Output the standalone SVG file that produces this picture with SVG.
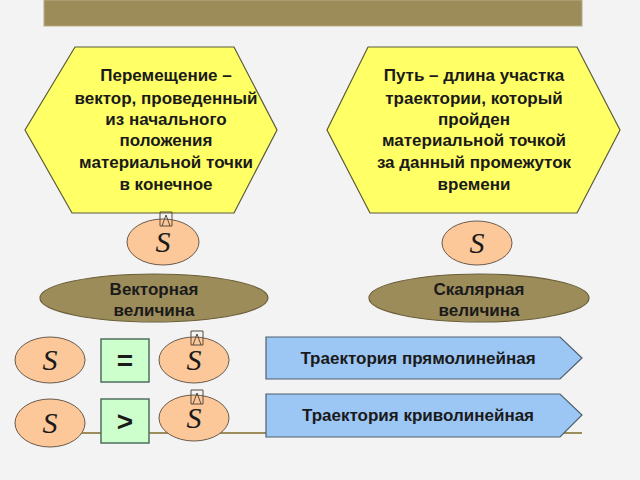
<svg xmlns="http://www.w3.org/2000/svg" width="640" height="480" viewBox="0 0 640 480">
<style>
.hex{fill:#ffff66;stroke:#5a5a3a;stroke-width:1.2}
.s{fill:#fcc89a;stroke:#6a5a4a;stroke-width:1}
.big{fill:#9c8c5a;stroke:#6b5f3a;stroke-width:1.2}
.box{fill:#ccffcc;stroke:#4f6f5f;stroke-width:1.5}
.arr{fill:#9cc6f4;stroke:#4f5f6f;stroke-width:1.2}
.t{font-family:"Liberation Sans",Arial,sans-serif;font-weight:bold;font-size:17px;fill:#1a1a1a;text-anchor:middle}
.sym{font-family:"Liberation Sans",Arial,sans-serif;font-weight:bold;font-size:28px;fill:#1a1a1a;text-anchor:middle}
.S{font-family:"Liberation Serif","Times New Roman",serif;font-style:italic;font-size:30px;fill:#1a1a1a;text-anchor:middle}
.hat{fill:none;stroke:#5a4a3a;stroke-width:1}
</style>
<defs>
<path id="hatp" d="M-6,8 L-6,-6 L6,-6 L6,8 M-6,8 L6,8 M-4,8 L0,-3 L4,8" class="hat"/>
</defs>
<rect width="640" height="480" fill="#f3f3f3"/>
<rect x="44" y="0" width="538" height="26" fill="#9c8c5a" stroke="#b8ab85" stroke-width="1"/>
<g id="connectors">
<line x1="44" y1="433" x2="582" y2="433" stroke="#9c8c5a" stroke-width="2"/>
</g>
<g id="hex-left">
<polygon class="hex" points="75,47 234,47 277,130 234,213 72,213 25,130"/>
<text class="t"><tspan x="166" y="81">Перемещение –</tspan><tspan x="166" y="104">вектор, проведенный</tspan><tspan x="166" y="125">из начального</tspan><tspan x="166" y="146">положения</tspan><tspan x="166" y="168">материальной точки</tspan><tspan x="166" y="190">в конечное</tspan></text>
</g>
<g id="hex-right">
<polygon class="hex" points="368,47 577,47 620,130 577,213 370,213 327,130"/>
<text class="t"><tspan x="474" y="81">Путь – длина участка</tspan><tspan x="474" y="104">траектории, который</tspan><tspan x="474" y="125">пройден</tspan><tspan x="474" y="146">материальной точкой</tspan><tspan x="474" y="168">за данный промежуток</tspan><tspan x="474" y="190">времени</tspan></text>
</g>
<g id="s-vector-top">
<ellipse class="s" cx="163" cy="242" rx="36" ry="23"/>
<text class="S" x="163" y="252">S</text>
<use href="#hatp" x="166" y="218"/>
</g>
<g id="s-scalar-top">
<ellipse class="s" cx="477" cy="243" rx="35" ry="22"/>
<text class="S" x="477" y="253">S</text>
</g>
<g id="vector-quantity">
<ellipse class="big" cx="154" cy="298" rx="114" ry="24"/>
<text class="t"><tspan x="154" y="295">Векторная</tspan><tspan x="154" y="316">величина</tspan></text>
</g>
<g id="scalar-quantity">
<ellipse class="big" cx="479" cy="298" rx="110" ry="24"/>
<text class="t"><tspan x="479" y="295">Скалярная</tspan><tspan x="479" y="316">величина</tspan></text>
</g>
<g id="s-row1-left">
<ellipse class="s" cx="50" cy="360" rx="35" ry="23"/>
<text class="S" x="50" y="370">S</text>
</g>
<g id="eq-box">
<rect class="box" x="101" y="339" width="48" height="43"/>
<text class="sym" x="125" y="370">=</text>
</g>
<g id="s-row1-right">
<ellipse class="s" cx="194" cy="360" rx="35" ry="23"/>
<text class="S" x="194" y="370">S</text>
<use href="#hatp" x="197" y="337"/>
</g>
<g id="s-row2-left">
<ellipse class="s" cx="50" cy="423" rx="35" ry="24"/>
<text class="S" x="50" y="433">S</text>
</g>
<g id="gt-box">
<rect class="box" x="101" y="399" width="48" height="44"/>
<text class="sym" x="125" y="431">&gt;</text>
</g>
<g id="s-row2-right">
<ellipse class="s" cx="194" cy="418" rx="35" ry="23"/>
<text class="S" x="194" y="428">S</text>
<use href="#hatp" x="197" y="396"/>
</g>
<g id="traj-straight">
<polygon class="arr" points="266,337 560,337 582,358 560,379 266,379"/>
<text class="t" x="418" y="364">Траектория прямолинейная</text>
</g>
<g id="traj-curved">
<polygon class="arr" points="266,394 560,394 582,415 560,437 266,437"/>
<text class="t" x="418" y="421">Траектория криволинейная</text>
</g>
</svg>
